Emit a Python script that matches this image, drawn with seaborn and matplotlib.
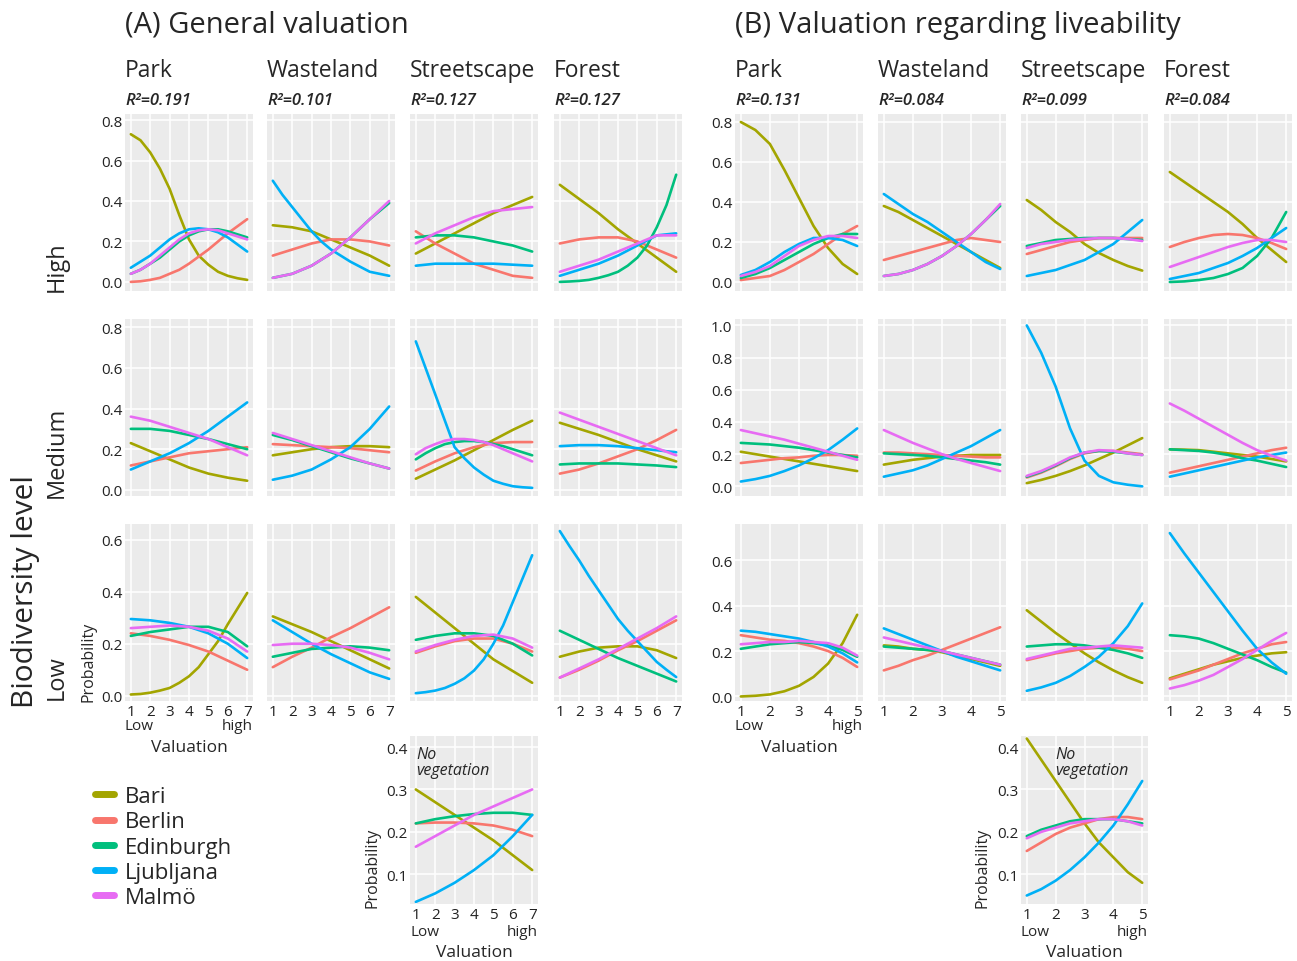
import seaborn as sns
import matplotlib.pyplot as plt
import pandas as pd
from matplotlib.lines import Line2D

cities = ['Bari', 'Berlin', 'Edinburgh', 'Ljubljana', 'Malmö']
city_colors = ['#A3A500', '#F8766D', '#00BF7D', '#00B0F6', '#E76BF3']
landscapes = ['Park', 'Wasteland', 'Streetscape', 'Forest']

val_general = [1, 2, 3, 4, 5, 6, 7]
val_general_fine = [1, 1.5, 2, 2.5, 3, 3.5, 4, 4.5, 5, 5.5, 6, 6.5, 7]
val_live = [1, 1.5, 2, 2.5, 3, 3.5, 4, 4.5, 5]

r2_general = ['0.191', '0.101', '0.127', '0.127']
r2_live = ['0.131', '0.084', '0.099', '0.084']

# (A) General valuation, scale 1-7 (strongly curved series read at half steps)
gen_high = {
    'Park': {'Bari': [0.73, 0.70, 0.64, 0.56, 0.46, 0.33, 0.21, 0.13, 0.085, 0.05, 0.03, 0.018, 0.01],
             'Berlin': [0.0, 0.003, 0.01, 0.02, 0.04, 0.06, 0.09, 0.125, 0.16, 0.20, 0.24, 0.275, 0.31],
             'Edinburgh': [0.04, 0.06, 0.09, 0.12, 0.16, 0.20, 0.23, 0.25, 0.26, 0.26, 0.25, 0.235, 0.22],
             'Ljubljana': [0.07, 0.10, 0.13, 0.17, 0.21, 0.24, 0.26, 0.265, 0.26, 0.245, 0.22, 0.185, 0.15],
             'Malmö': [0.04, 0.06, 0.09, 0.13, 0.17, 0.21, 0.24, 0.255, 0.26, 0.255, 0.24, 0.225, 0.21]},
    'Wasteland': {'Bari': [0.28, 0.27, 0.25, 0.21, 0.17, 0.13, 0.08],
                  'Berlin': [0.13, 0.16, 0.19, 0.21, 0.21, 0.20, 0.18],
                  'Edinburgh': [0.02, 0.03, 0.04, 0.06, 0.08, 0.11, 0.14, 0.18, 0.22, 0.265, 0.31, 0.35, 0.39],
                  'Ljubljana': [0.50, 0.43, 0.37, 0.31, 0.25, 0.20, 0.16, 0.13, 0.10, 0.075, 0.05, 0.04, 0.03],
                  'Malmö': [0.02, 0.03, 0.04, 0.06, 0.08, 0.11, 0.14, 0.18, 0.22, 0.265, 0.31, 0.355, 0.40]},
    'Streetscape': {'Bari': [0.14, 0.19, 0.24, 0.29, 0.34, 0.38, 0.42],
                    'Berlin': [0.25, 0.19, 0.14, 0.09, 0.06, 0.03, 0.02],
                    'Edinburgh': [0.22, 0.23, 0.23, 0.22, 0.20, 0.18, 0.15],
                    'Ljubljana': [0.08, 0.09, 0.09, 0.09, 0.09, 0.085, 0.08],
                    'Malmö': [0.19, 0.24, 0.28, 0.32, 0.35, 0.36, 0.37]},
    'Forest': {'Bari': [0.48, 0.41, 0.34, 0.26, 0.19, 0.12, 0.05],
               'Berlin': [0.19, 0.21, 0.22, 0.22, 0.20, 0.16, 0.12],
               'Edinburgh': [0.0, 0.002, 0.005, 0.01, 0.02, 0.033, 0.05, 0.08, 0.12, 0.18, 0.27, 0.38, 0.53],
               'Ljubljana': [0.03, 0.06, 0.09, 0.13, 0.18, 0.23, 0.24],
               'Malmö': [0.05, 0.08, 0.11, 0.15, 0.19, 0.23, 0.23]},
}
gen_medium = {
    'Park': {'Bari': [0.23, 0.19, 0.15, 0.11, 0.08, 0.06, 0.045],
             'Berlin': [0.12, 0.14, 0.16, 0.18, 0.19, 0.20, 0.21],
             'Edinburgh': [0.30, 0.30, 0.29, 0.27, 0.25, 0.225, 0.20],
             'Ljubljana': [0.10, 0.14, 0.18, 0.23, 0.29, 0.36, 0.43],
             'Malmö': [0.36, 0.34, 0.31, 0.28, 0.25, 0.21, 0.17]},
    'Wasteland': {'Bari': [0.17, 0.185, 0.20, 0.21, 0.215, 0.215, 0.21],
                  'Berlin': [0.225, 0.22, 0.215, 0.21, 0.205, 0.195, 0.185],
                  'Edinburgh': [0.27, 0.245, 0.215, 0.185, 0.155, 0.13, 0.105],
                  'Ljubljana': [0.05, 0.06, 0.07, 0.085, 0.10, 0.125, 0.15, 0.18, 0.21, 0.255, 0.30, 0.355, 0.41],
                  'Malmö': [0.28, 0.25, 0.22, 0.19, 0.16, 0.13, 0.105]},
    'Streetscape': {'Bari': [0.055, 0.10, 0.145, 0.195, 0.245, 0.295, 0.34],
                    'Berlin': [0.095, 0.14, 0.18, 0.21, 0.23, 0.235, 0.235],
                    'Edinburgh': [0.15, 0.18, 0.205, 0.225, 0.235, 0.24, 0.24, 0.235, 0.225, 0.215, 0.20, 0.185, 0.17],
                    'Ljubljana': [0.73, 0.60, 0.47, 0.34, 0.21, 0.156, 0.11, 0.075, 0.045, 0.03, 0.018, 0.013, 0.01],
                    'Malmö': [0.175, 0.205, 0.225, 0.242, 0.25, 0.25, 0.245, 0.235, 0.22, 0.20, 0.18, 0.16, 0.14]},
    'Forest': {'Bari': [0.33, 0.30, 0.27, 0.235, 0.20, 0.17, 0.14],
               'Berlin': [0.08, 0.10, 0.13, 0.165, 0.20, 0.245, 0.295],
               'Edinburgh': [0.125, 0.13, 0.13, 0.13, 0.125, 0.12, 0.112],
               'Ljubljana': [0.215, 0.22, 0.22, 0.215, 0.205, 0.195, 0.185],
               'Malmö': [0.38, 0.345, 0.31, 0.275, 0.24, 0.205, 0.17]},
}
gen_low = {
    'Park': {'Bari': [0.005, 0.007, 0.012, 0.02, 0.03, 0.05, 0.075, 0.11, 0.16, 0.21, 0.275, 0.335, 0.395],
             'Berlin': [0.24, 0.23, 0.215, 0.195, 0.17, 0.135, 0.10],
             'Edinburgh': [0.23, 0.245, 0.255, 0.265, 0.265, 0.245, 0.19],
             'Ljubljana': [0.295, 0.29, 0.28, 0.265, 0.24, 0.20, 0.145],
             'Malmö': [0.26, 0.265, 0.27, 0.265, 0.25, 0.22, 0.17]},
    'Wasteland': {'Bari': [0.305, 0.275, 0.245, 0.21, 0.175, 0.14, 0.105],
                  'Berlin': [0.11, 0.15, 0.185, 0.225, 0.26, 0.30, 0.34],
                  'Edinburgh': [0.15, 0.165, 0.18, 0.185, 0.19, 0.185, 0.175],
                  'Ljubljana': [0.29, 0.245, 0.20, 0.16, 0.125, 0.09, 0.065],
                  'Malmö': [0.195, 0.20, 0.20, 0.195, 0.185, 0.165, 0.14]},
    'Streetscape': {'Bari': [0.38, 0.32, 0.26, 0.20, 0.14, 0.095, 0.05],
                    'Berlin': [0.165, 0.19, 0.21, 0.22, 0.22, 0.20, 0.17],
                    'Edinburgh': [0.215, 0.23, 0.24, 0.24, 0.23, 0.20, 0.155],
                    'Ljubljana': [0.01, 0.014, 0.02, 0.03, 0.046, 0.067, 0.097, 0.14, 0.20, 0.27, 0.36, 0.45, 0.54],
                    'Malmö': [0.17, 0.195, 0.215, 0.23, 0.235, 0.22, 0.185]},
    'Forest': {'Bari': [0.15, 0.17, 0.185, 0.19, 0.19, 0.175, 0.145],
               'Berlin': [0.07, 0.10, 0.135, 0.175, 0.21, 0.25, 0.29],
               'Edinburgh': [0.25, 0.215, 0.18, 0.145, 0.115, 0.085, 0.055],
               'Ljubljana': [0.633, 0.575, 0.52, 0.46, 0.405, 0.35, 0.295, 0.25, 0.21, 0.17, 0.13, 0.10, 0.072],
               'Malmö': [0.07, 0.105, 0.14, 0.18, 0.22, 0.26, 0.305]},
}
gen_noveg = {'Bari': [0.30, 0.27, 0.24, 0.21, 0.18, 0.145, 0.11],
             'Berlin': [0.22, 0.222, 0.222, 0.22, 0.215, 0.205, 0.19],
             'Edinburgh': [0.22, 0.23, 0.237, 0.242, 0.245, 0.245, 0.24],
             'Ljubljana': [0.035, 0.055, 0.08, 0.11, 0.145, 0.19, 0.24],
             'Malmö': [0.165, 0.19, 0.215, 0.24, 0.26, 0.28, 0.30]}

# (B) Valuation regarding liveability, scale 1-5
live_high = {
    'Park': {'Bari': [0.80, 0.76, 0.69, 0.56, 0.42, 0.28, 0.17, 0.09, 0.04],
             'Berlin': [0.01, 0.02, 0.03, 0.06, 0.10, 0.14, 0.19, 0.24, 0.28],
             'Edinburgh': [0.02, 0.04, 0.07, 0.11, 0.15, 0.19, 0.22, 0.24, 0.24],
             'Ljubljana': [0.035, 0.06, 0.10, 0.15, 0.19, 0.22, 0.22, 0.21, 0.18],
             'Malmö': [0.03, 0.05, 0.08, 0.13, 0.18, 0.21, 0.23, 0.23, 0.22]},
    'Wasteland': {'Bari': [0.38, 0.35, 0.31, 0.27, 0.23, 0.19, 0.15, 0.11, 0.07],
                  'Berlin': [0.11, 0.13, 0.15, 0.17, 0.19, 0.21, 0.22, 0.21, 0.20],
                  'Edinburgh': [0.03, 0.04, 0.06, 0.09, 0.13, 0.18, 0.24, 0.31, 0.38],
                  'Ljubljana': [0.44, 0.39, 0.34, 0.30, 0.25, 0.20, 0.15, 0.10, 0.065],
                  'Malmö': [0.03, 0.04, 0.06, 0.09, 0.13, 0.18, 0.24, 0.31, 0.39]},
    'Streetscape': {'Bari': [0.41, 0.36, 0.30, 0.25, 0.19, 0.145, 0.11, 0.08, 0.057],
                    'Berlin': [0.14, 0.16, 0.18, 0.20, 0.21, 0.22, 0.22, 0.22, 0.22],
                    'Edinburgh': [0.18, 0.195, 0.21, 0.215, 0.22, 0.22, 0.22, 0.215, 0.21],
                    'Ljubljana': [0.03, 0.045, 0.06, 0.085, 0.11, 0.15, 0.19, 0.25, 0.31],
                    'Malmö': [0.17, 0.19, 0.20, 0.21, 0.215, 0.22, 0.22, 0.215, 0.205]},
    'Forest': {'Bari': [0.55, 0.50, 0.45, 0.40, 0.35, 0.29, 0.22, 0.16, 0.10],
               'Berlin': [0.175, 0.20, 0.22, 0.235, 0.24, 0.235, 0.22, 0.195, 0.165],
               'Edinburgh': [0.0, 0.003, 0.01, 0.02, 0.04, 0.07, 0.13, 0.22, 0.35],
               'Ljubljana': [0.015, 0.03, 0.045, 0.07, 0.095, 0.13, 0.17, 0.22, 0.27],
               'Malmö': [0.075, 0.10, 0.125, 0.15, 0.175, 0.195, 0.21, 0.21, 0.20]},
}
live_medium = {
    'Park': {'Bari': [0.215, 0.20, 0.185, 0.17, 0.155, 0.14, 0.125, 0.11, 0.095],
             'Berlin': [0.145, 0.155, 0.165, 0.175, 0.18, 0.19, 0.195, 0.195, 0.19],
             'Edinburgh': [0.27, 0.265, 0.26, 0.25, 0.24, 0.225, 0.21, 0.195, 0.18],
             'Ljubljana': [0.03, 0.045, 0.065, 0.095, 0.13, 0.175, 0.225, 0.29, 0.36],
             'Malmö': [0.35, 0.33, 0.31, 0.29, 0.265, 0.24, 0.215, 0.19, 0.165]},
    'Wasteland': {'Bari': [0.135, 0.15, 0.165, 0.175, 0.185, 0.19, 0.195, 0.195, 0.195],
                  'Berlin': [0.21, 0.21, 0.205, 0.20, 0.195, 0.19, 0.185, 0.18, 0.18],
                  'Edinburgh': [0.205, 0.20, 0.195, 0.19, 0.18, 0.17, 0.16, 0.15, 0.135],
                  'Ljubljana': [0.06, 0.08, 0.10, 0.13, 0.17, 0.21, 0.25, 0.30, 0.35],
                  'Malmö': [0.35, 0.31, 0.27, 0.235, 0.20, 0.17, 0.145, 0.12, 0.095]},
    'Streetscape': {'Bari': [0.02, 0.04, 0.065, 0.095, 0.13, 0.17, 0.21, 0.255, 0.30],
                    'Berlin': [0.055, 0.085, 0.125, 0.17, 0.205, 0.22, 0.22, 0.21, 0.20],
                    'Edinburgh': [0.06, 0.09, 0.13, 0.175, 0.21, 0.22, 0.215, 0.205, 0.195],
                    'Ljubljana': [1.0, 0.83, 0.62, 0.36, 0.16, 0.065, 0.025, 0.01, 0.0],
                    'Malmö': [0.065, 0.095, 0.135, 0.18, 0.21, 0.225, 0.22, 0.205, 0.195]},
    'Forest': {'Bari': [0.23, 0.228, 0.225, 0.215, 0.205, 0.195, 0.185, 0.17, 0.155],
               'Berlin': [0.085, 0.105, 0.125, 0.145, 0.165, 0.185, 0.205, 0.225, 0.24],
               'Edinburgh': [0.23, 0.225, 0.22, 0.21, 0.195, 0.175, 0.16, 0.14, 0.12],
               'Ljubljana': [0.06, 0.08, 0.10, 0.12, 0.14, 0.16, 0.18, 0.195, 0.21],
               'Malmö': [0.515, 0.47, 0.42, 0.37, 0.32, 0.27, 0.225, 0.19, 0.16]},
}
live_low = {
    'Park': {'Bari': [0.0, 0.003, 0.009, 0.023, 0.047, 0.086, 0.145, 0.235, 0.36],
             'Berlin': [0.27, 0.26, 0.25, 0.245, 0.235, 0.22, 0.20, 0.17, 0.13],
             'Edinburgh': [0.21, 0.22, 0.23, 0.235, 0.24, 0.235, 0.225, 0.205, 0.175],
             'Ljubljana': [0.29, 0.285, 0.275, 0.265, 0.255, 0.24, 0.22, 0.19, 0.15],
             'Malmö': [0.23, 0.235, 0.24, 0.24, 0.245, 0.24, 0.235, 0.215, 0.18]},
    'Wasteland': {'Bari': [0.225, 0.22, 0.21, 0.205, 0.195, 0.18, 0.165, 0.15, 0.135],
                  'Berlin': [0.115, 0.135, 0.16, 0.18, 0.205, 0.23, 0.255, 0.28, 0.305],
                  'Edinburgh': [0.22, 0.215, 0.21, 0.205, 0.20, 0.185, 0.17, 0.155, 0.14],
                  'Ljubljana': [0.30, 0.275, 0.25, 0.225, 0.20, 0.175, 0.155, 0.135, 0.115],
                  'Malmö': [0.26, 0.245, 0.23, 0.215, 0.20, 0.185, 0.17, 0.155, 0.14]},
    'Streetscape': {'Bari': [0.38, 0.33, 0.28, 0.235, 0.19, 0.15, 0.115, 0.085, 0.06],
                    'Berlin': [0.16, 0.175, 0.19, 0.20, 0.21, 0.215, 0.215, 0.21, 0.20],
                    'Edinburgh': [0.22, 0.225, 0.23, 0.23, 0.225, 0.215, 0.205, 0.19, 0.17],
                    'Ljubljana': [0.025, 0.04, 0.06, 0.09, 0.13, 0.175, 0.235, 0.31, 0.41],
                    'Malmö': [0.165, 0.18, 0.195, 0.21, 0.215, 0.22, 0.225, 0.22, 0.215]},
    'Forest': {'Bari': [0.08, 0.10, 0.12, 0.14, 0.155, 0.17, 0.18, 0.19, 0.195],
               'Berlin': [0.075, 0.095, 0.115, 0.14, 0.165, 0.19, 0.21, 0.23, 0.24],
               'Edinburgh': [0.27, 0.265, 0.255, 0.235, 0.21, 0.185, 0.16, 0.13, 0.105],
               'Ljubljana': [0.72, 0.63, 0.545, 0.46, 0.375, 0.29, 0.21, 0.15, 0.10],
               'Malmö': [0.035, 0.05, 0.07, 0.095, 0.13, 0.165, 0.205, 0.245, 0.28]},
}
live_noveg = {'Bari': [0.42, 0.37, 0.32, 0.27, 0.22, 0.175, 0.14, 0.105, 0.08],
              'Berlin': [0.155, 0.175, 0.195, 0.21, 0.22, 0.23, 0.235, 0.235, 0.23],
              'Edinburgh': [0.19, 0.205, 0.215, 0.225, 0.23, 0.23, 0.23, 0.225, 0.22],
              'Ljubljana': [0.05, 0.065, 0.085, 0.11, 0.14, 0.175, 0.215, 0.265, 0.32],
              'Malmö': [0.185, 0.20, 0.21, 0.22, 0.225, 0.23, 0.23, 0.225, 0.215]}

sns.set_theme(style='darkgrid', rc={'axes.facecolor': '#EBEBEB', 'grid.color': 'white',
                                    'grid.linewidth': 1.1})
plt.rcParams['font.family'] = ['Open Sans', 'DejaVu Sans']

W, H = 1297, 962
fig = plt.figure(figsize=(W / 100, H / 100), dpi=100)
fig.patch.set_facecolor('white')


def box(x0, x1, y0, y1):
    return [x0 / W, 1 - y1 / H, (x1 - x0) / W, (y1 - y0) / H]


def ftext(x, y, s, **kw):
    return fig.text(x / W, 1 - y / H, s, **kw)


def pick_x(values):
    if len(values) == len(val_general):
        return val_general
    if len(values) == len(val_general_fine):
        return val_general_fine
    return val_live


def draw_panel(rect, curves, xlim, ylim, yticks, show_y, show_x, xticks):
    ax = fig.add_axes(rect)
    rows = []
    for c in cities:
        for x, v in zip(pick_x(curves[c]), curves[c]):
            rows.append((x, c, v))
    df = pd.DataFrame(rows, columns=['Valuation', 'City', 'Probability'])
    sns.lineplot(data=df, x='Valuation', y='Probability', hue='City', hue_order=cities,
                 palette=city_colors, linewidth=1.9, legend=False, ax=ax)
    ax.set_xlim(*xlim)
    ax.set_ylim(*ylim)
    ax.set_xticks(xticks)
    ax.set_yticks(yticks)
    ax.set_yticklabels([f'{t:.1f}' for t in yticks])
    ax.tick_params(length=0, labelsize=11, pad=2, colors='#222222')
    ax.tick_params(labelleft=show_y, labelbottom=show_x)
    ax.set_xlabel('')
    ax.set_ylabel('')
    for s in ax.spines.values():
        s.set_visible(False)
    return ax


groups = [
    dict(cols=[(125, 253), (267, 395), (410, 538), (554, 682)],
         xlim=(0.7, 7.3), xticks=[1, 2, 3, 4, 5, 6, 7],
         rows=[gen_high, gen_medium, gen_low], noveg=gen_noveg, r2=r2_general,
         ylims=[(-0.045, 0.83), (-0.03, 0.84), (-0.02, 0.66)],
         yticks=[[0, 0.2, 0.4, 0.6, 0.8], [0, 0.2, 0.4, 0.6, 0.8], [0, 0.2, 0.4, 0.6]],
         title='(A) General valuation', noveg_text_dx=6),
    dict(cols=[(735, 863), (878, 1006), (1021, 1148), (1164, 1292)],
         xlim=(0.8, 5.2), xticks=[1, 2, 3, 4, 5],
         rows=[live_high, live_medium, live_low], noveg=live_noveg, r2=r2_live,
         ylims=[(-0.045, 0.84), (-0.06, 1.04), (-0.02, 0.76)],
         yticks=[[0, 0.2, 0.4, 0.6, 0.8], [0, 0.2, 0.4, 0.6, 0.8, 1.0], [0, 0.2, 0.4, 0.6]],
         title='(B) Valuation regarding liveability', noveg_text_dx=34),
]
row_px = [(115, 292), (320, 497), (525, 702)]

for g in groups:
    ftext(g['cols'][0][0], 25, g['title'], fontsize=21, va='center', ha='left')
    for ci, (x0, x1) in enumerate(g['cols']):
        ftext(x0, 71, landscapes[ci], fontsize=16.5, va='center', ha='left')
        ftext(x0, 101, 'R²=' + g['r2'][ci], fontsize=12, style='italic',
              fontweight='semibold', va='center', ha='left')
        for ri, (y0, y1) in enumerate(row_px):
            draw_panel(box(x0, x1, y0, y1), g['rows'][ri][landscapes[ci]],
                       g['xlim'], g['ylims'][ri], g['yticks'][ri],
                       show_y=(ci == 0), show_x=(ri == 2 and ci != 2), xticks=g['xticks'])
    # no vegetation panel under the streetscape column
    nx0, nx1 = g['cols'][2]
    draw_panel(box(nx0, nx1, 737, 905), g['noveg'], g['xlim'], (0.03, 0.426),
               [0.1, 0.2, 0.3, 0.4], show_y=True, show_x=True, xticks=g['xticks'])
    ftext(nx0 + g['noveg_text_dx'], 755, 'No', fontsize=11.5, style='italic', va='center', ha='left')
    ftext(nx0 + g['noveg_text_dx'], 771, 'vegetation', fontsize=11.5, style='italic',
          va='center', ha='left')
    # Low / high / Valuation under the first column and the no-vegetation panel
    for (ax0, ax1), ylow in [(g['cols'][0], 727), ((nx0, nx1), 932)]:
        ftext(ax0, ylow, 'Low', fontsize=11, va='center', ha='left')
        ftext(ax1, ylow, 'high', fontsize=11, va='center', ha='right')
        ftext((ax0 + ax1) / 2, ylow + 21, 'Valuation', fontsize=12.5, va='center', ha='center')
    ftext(nx0 - 38, 868, 'Probability', fontsize=11.5, rotation=90, va='center', ha='center')

ftext(88, 662, 'Probability', fontsize=11.5, rotation=90, va='center', ha='center')
ftext(57, 267, 'High', fontsize=17, rotation=90, va='center', ha='center')
ftext(57, 452, 'Medium', fontsize=17, rotation=90, va='center', ha='center')
ftext(57, 678, 'Low', fontsize=17, rotation=90, va='center', ha='center')
ftext(25, 592, 'Biodiversity level', fontsize=21.5, rotation=90, va='center', ha='center')

handles = [Line2D([0], [0], color=c, linewidth=5) for c in city_colors]
fig.legend(handles, cities, loc='upper left', bbox_to_anchor=(84 / W, 1 - 776 / H),
           frameon=False, fontsize=16, handlelength=0.85, handletextpad=0.5,
           labelspacing=0.19, borderpad=0)

fig.savefig('out.png', dpi=100, facecolor='white')
